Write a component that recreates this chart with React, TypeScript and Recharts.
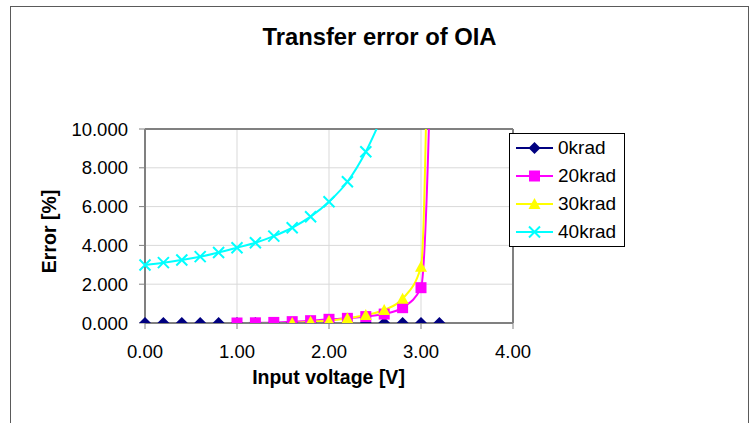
import React from 'react';
import { LineChart, Line, XAxis, YAxis, CartesianGrid, ReferenceLine, Legend } from 'recharts';

// input voltage [V]
const voltage = [0, 0.2, 0.4, 0.6, 0.8, 1.0, 1.2, 1.4, 1.6, 1.8, 2.0, 2.2, 2.4, 2.6, 2.8, 3.0, 3.2];

// transfer error [%] per dose
const err0krad = [0, 0, 0, 0, 0, 0, 0, 0, 0, 0, 0, 0, 0, 0, 0, 0, 0];
const err20krad = [-0.05, -0.05, -0.05, -0.05, -0.05, 0.0, 0.01, 0.03, 0.07, 0.12, 0.19, 0.24, 0.33, 0.46, 0.79, 1.82, 35];
const err30krad = [-0.15, -0.15, -0.15, -0.15, -0.15, -0.15, -0.14, -0.1, 0.0, 0.07, 0.12, 0.24, 0.41, 0.67, 1.25, 2.9, 70];
const err40krad = [2.99, 3.11, 3.25, 3.42, 3.63, 3.88, 4.14, 4.48, 4.91, 5.48, 6.25, 7.28, 8.83, 10.9];

const seriesNames = ['0krad', '20krad', '30krad', '40krad'];
const seriesKeys = ['k0', 'k20', 'k30', 'k40'];
const seriesColors = ['#000080', '#FF00FF', '#FFFF00', '#00FFFF'];
const seriesShapes = ['diamond', 'square', 'triangle', 'cross'];

const xTicks = [0, 1, 2, 3, 4];
const yTicks = [0, 2, 4, 6, 8, 10];

const rows = voltage.map((v, i) => ({
  v,
  k0: err0krad[i],
  k20: err20krad[i],
  k30: err30krad[i],
  k40: i < err40krad.length ? err40krad[i] : null,
}));

const FONT = '"Liberation Sans", Arial, sans-serif';

function Marker({ shape, color, cx, cy }: { shape: string; color: string; cx: number; cy: number }) {
  switch (shape) {
    case 'diamond':
      return <polygon points={`${cx},${cy - 6} ${cx + 6},${cy} ${cx},${cy + 6} ${cx - 6},${cy}`} fill={color} />;
    case 'square':
      return <rect x={cx - 5.5} y={cy - 5.5} width={11} height={11} fill={color} />;
    case 'triangle':
      return <polygon points={`${cx},${cy - 6} ${cx + 6},${cy + 5} ${cx - 6},${cy + 5}`} fill={color} />;
    default:
      return (
        <path
          d={`M${cx - 5.5},${cy - 5.5}L${cx + 5.5},${cy + 5.5}M${cx - 5.5},${cy + 5.5}L${cx + 5.5},${cy - 5.5}`}
          stroke={color}
          strokeWidth={2}
        />
      );
  }
}

// markers are only drawn for points inside the 0..10 range, like the original
const makeDot = (shape: string, color: string) => (props: any) => {
  const { cx, cy, value, index } = props;
  if (cx == null || cy == null || value == null || value < 0 || value > 10) {
    return <g key={`dot-${index}`} />;
  }
  return (
    <g key={`dot-${index}`}>
      <Marker shape={shape} color={color} cx={cx} cy={cy} />
    </g>
  );
};

const renderLegend = (props: any) => {
  // only the line entries, not the marker-only copies
  const items = (props.payload ?? []).filter((it: any) => seriesNames.includes(it.value));
  return (
    <div
      style={{
        width: 116,
        height: 114,
        boxSizing: 'border-box',
        border: '1px solid #000',
        background: '#fff',
        fontFamily: FONT,
        fontSize: 19,
        color: '#000',
      }}
    >
      {items.map((item: any) => {
        const idx = seriesNames.indexOf(item.value);
        return (
          <div key={item.value} style={{ display: 'flex', alignItems: 'center', height: 28 }}>
            <svg width={48} height={28}>
              <line x1={6} x2={43} y1={14} y2={14} stroke={seriesColors[idx]} strokeWidth={2} />
              <Marker shape={seriesShapes[idx]} color={seriesColors[idx]} cx={24.5} cy={14} />
            </svg>
            <span style={{ lineHeight: '28px' }}>{item.value}</span>
          </div>
        );
      })}
    </div>
  );
};

export default function App() {
  return (
    <div style={{ position: 'absolute', left: 0, top: 0, width: 755, height: 423, background: '#fff', overflow: 'hidden', fontFamily: FONT }}>
      <div style={{ position: 'absolute', left: 10, top: 6, width: 737, height: 440, border: '1px solid #5a5a5a' }} />
      <LineChart width={755} height={423} data={rows} margin={{ top: 129, right: 242, bottom: 70, left: 0 }}>
        <CartesianGrid stroke="#d9d9d9" strokeWidth={1} />
        <XAxis
          dataKey="v"
          type="number"
          domain={[0, 4]}
          ticks={xTicks}
          tickFormatter={(t: number) => t.toFixed(2)}
          height={30}
          tickSize={6}
          tickMargin={16}
          axisLine={{ stroke: '#808080', strokeWidth: 2 }}
          tickLine={{ stroke: '#808080', strokeWidth: 1 }}
          tick={{ fill: '#000', fontSize: 18.5, fontFamily: FONT }}
        />
        <YAxis
          type="number"
          domain={[0, 10]}
          allowDataOverflow
          ticks={yTicks}
          tickFormatter={(t: number) => t.toFixed(3)}
          width={145}
          tickSize={6}
          tickMargin={11}
          axisLine={{ stroke: '#808080', strokeWidth: 2 }}
          tickLine={{ stroke: '#808080', strokeWidth: 1 }}
          tick={{ fill: '#000', fontSize: 18.5, fontFamily: FONT }}
        />
        <ReferenceLine y={10} stroke="#808080" strokeWidth={2} />
        <ReferenceLine x={4} stroke="#808080" strokeWidth={2} />
        <Legend
          layout="vertical"
          align="center"
          verticalAlign="middle"
          content={renderLegend}
          wrapperStyle={{ left: 509, top: 133, width: 116, height: 114 }}
        />
        {seriesKeys.map((key, i) => (
          <Line
            key={`line-${key}`}
            type="monotone"
            dataKey={key}
            name={seriesNames[i]}
            stroke={seriesColors[i]}
            strokeWidth={2}
            dot={false}
            activeDot={false}
            isAnimationActive={false}
          />
        ))}
        {seriesKeys.map((key, i) => (
          <Line
            key={`marks-${key}`}
            type="monotone"
            dataKey={key}
            name={`${seriesNames[i]} marks`}
            stroke="none"
            legendType="none"
            dot={makeDot(seriesShapes[i], seriesColors[i])}
            activeDot={false}
            isAnimationActive={false}
          />
        ))}
      </LineChart>
      <svg width={755} height={423} style={{ position: 'absolute', left: 0, top: 0, pointerEvents: 'none' }}>
        <text x={379.5} y={45} textAnchor="middle" fontSize={23.8} fontWeight="bold" fontFamily={FONT} fill="#000">
          Transfer error of OIA
        </text>
        <text x={328.5} y={384} textAnchor="middle" fontSize={19.5} fontWeight="bold" fontFamily={FONT} fill="#000">
          Input voltage [V]
        </text>
        <text
          transform="translate(56,231.5) rotate(-90)"
          textAnchor="middle"
          fontSize={19.5}
          fontWeight="bold"
          fontFamily={FONT}
          fill="#000"
        >
          Error [%]
        </text>
      </svg>
    </div>
  );
}
